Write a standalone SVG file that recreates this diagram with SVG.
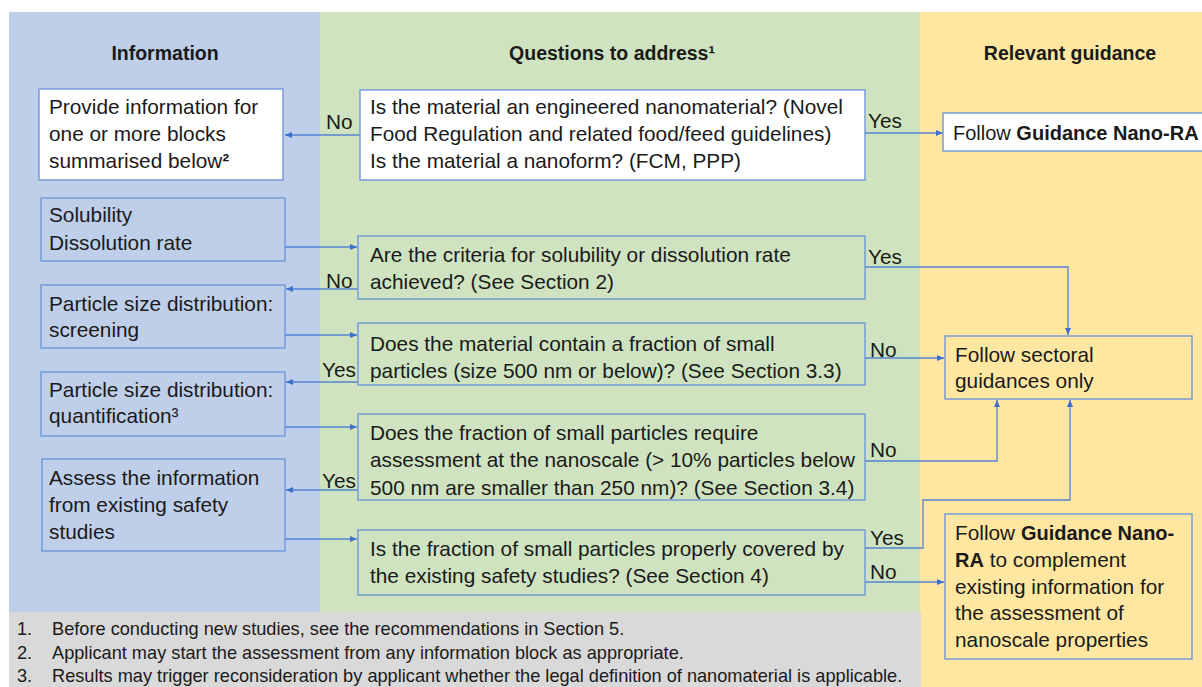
<svg xmlns="http://www.w3.org/2000/svg" width="1202" height="687" viewBox="0 0 1202 687">
<defs>
<style>
.t{font-family:"Liberation Sans",Arial,sans-serif;font-size:20.8px;fill:#1a1a1a}
.h{font-family:"Liberation Sans",Arial,sans-serif;font-size:19.5px;font-weight:bold;fill:#1a1a1a}
.f{font-family:"Liberation Sans",Arial,sans-serif;font-size:18.2px;fill:#1a1a1a}
.b{font-weight:bold;font-size:20px}
.box{stroke:#6f97d6;stroke-width:1.4}
.w{fill:#ffffff}
.bl{fill:#bfcfea}
.gr{fill:#cfe3c1}
.ye{fill:#ffe7a1}
.c{fill:none;stroke:#5584d0;stroke-width:1.3}
</style>
<marker id="ah" markerWidth="8" markerHeight="8" refX="7" refY="4" orient="auto" markerUnits="userSpaceOnUse">
<path d="M0,1 L7,4 L0,7 Z" fill="#3f6fcc"/>
</marker>
</defs>
<rect width="1202" height="687" fill="#ffffff"/>
<g id="backgrounds">
<rect x="9" y="12" width="311" height="600" fill="#bfcfea"/>
<rect x="320" y="12" width="600" height="600" fill="#cfe3c1"/>
<rect x="920" y="12" width="282" height="675" fill="#ffe7a1"/>
<rect x="9" y="612" width="912" height="75" fill="#d9d9d9"/>
</g>
<g id="headers">
<text class="h" x="165" y="60" text-anchor="middle">Information</text>
<text class="h" x="612" y="60" text-anchor="middle">Questions to address¹</text>
<text class="h" x="1070" y="60" text-anchor="middle">Relevant guidance</text>
</g>
<g id="connectors">
<path class="c" d="M360,135 H285" marker-end="url(#ah)"/>
<path class="c" d="M865,133 H943" marker-end="url(#ah)"/>
<path class="c" d="M285,247 H357" marker-end="url(#ah)"/>
<path class="c" d="M358,289 H286" marker-end="url(#ah)"/>
<path class="c" d="M285,335 H357" marker-end="url(#ah)"/>
<path class="c" d="M358,382 H286" marker-end="url(#ah)"/>
<path class="c" d="M285,427 H357" marker-end="url(#ah)"/>
<path class="c" d="M358,490 H286" marker-end="url(#ah)"/>
<path class="c" d="M285,539 H357" marker-end="url(#ah)"/>
<path class="c" d="M865,267 H1068 V335" marker-end="url(#ah)"/>
<path class="c" d="M865,358 H944" marker-end="url(#ah)"/>
<path class="c" d="M865,461 H997 V400" marker-end="url(#ah)"/>
<path class="c" d="M865,548 H923 V500 H1070 V400" marker-end="url(#ah)"/>
<path class="c" d="M865,582 H944" marker-end="url(#ah)"/>
<text class="t" x="326" y="129">No</text>
<text class="t" x="868" y="128">Yes</text>
<text class="t" x="326" y="288">No</text>
<text class="t" x="868" y="264">Yes</text>
<text class="t" x="870" y="357">No</text>
<text class="t" x="322" y="377">Yes</text>
<text class="t" x="870" y="457">No</text>
<text class="t" x="322" y="488">Yes</text>
<text class="t" x="870" y="545">Yes</text>
<text class="t" x="870" y="579">No</text>
</g>
<g id="info-provide">
<rect class="box w" x="39" y="89" width="244" height="91"/>
<text class="t" x="49" y="114">Provide information for</text>
<text class="t" x="49" y="141">one or more blocks</text>
<text class="t" x="49" y="168">summarised below<tspan class="b">²</tspan></text>
</g>
<g id="info-solubility">
<rect class="box bl" x="41" y="198" width="244" height="63"/>
<text class="t" x="49" y="222">Solubility</text>
<text class="t" x="49" y="250">Dissolution rate</text>
</g>
<g id="info-psd-screening">
<rect class="box bl" x="41" y="285" width="244" height="63"/>
<text class="t" x="49" y="311">Particle size distribution:</text>
<text class="t" x="49" y="337">screening</text>
</g>
<g id="info-psd-quant">
<rect class="box bl" x="41" y="372" width="244" height="64"/>
<text class="t" x="49" y="397">Particle size distribution:</text>
<text class="t" x="49" y="423">quantification³</text>
</g>
<g id="info-assess">
<rect class="box bl" x="42" y="459" width="243" height="92"/>
<text class="t" x="49" y="485">Assess the information</text>
<text class="t" x="49" y="512">from existing safety</text>
<text class="t" x="49" y="539">studies</text>
</g>
<g id="q1">
<rect class="box w" x="360" y="90" width="505" height="90"/>
<text class="t" x="370" y="114">Is the material an engineered nanomaterial? (Novel</text>
<text class="t" x="370" y="141">Food Regulation and related food/feed guidelines)</text>
<text class="t" x="370" y="168">Is the material a nanoform? (FCM, PPP)</text>
</g>
<g id="q2">
<rect class="box gr" x="358" y="236" width="507" height="63"/>
<text class="t" x="370" y="262">Are the criteria for solubility or dissolution rate</text>
<text class="t" x="370" y="289">achieved? (See Section 2)</text>
</g>
<g id="q3">
<rect class="box gr" x="358" y="323" width="507" height="62"/>
<text class="t" x="370" y="351">Does the material contain a fraction of small</text>
<text class="t" x="370" y="378">particles (size 500 nm or below)? (See Section 3.3)</text>
</g>
<g id="q4">
<rect class="box gr" x="358" y="414" width="507" height="86"/>
<text class="t" x="370" y="440">Does the fraction of small particles require</text>
<text class="t" x="370" y="467">assessment at the nanoscale (&gt; 10% particles below</text>
<text class="t" x="370" y="495">500 nm are smaller than 250 nm)? (See Section 3.4)</text>
</g>
<g id="q5">
<rect class="box gr" x="358" y="530" width="507" height="65"/>
<text class="t" x="370" y="556">Is the fraction of small particles properly covered by</text>
<text class="t" x="370" y="583">the existing safety studies? (See Section 4)</text>
</g>
<g id="g-nano-ra">
<rect class="box w" x="943" y="113" width="262" height="38"/>
<text class="t" x="953" y="140" style="font-size:20px">Follow <tspan class="b">Guidance Nano-RA</tspan></text>
</g>
<g id="g-sectoral">
<rect class="box ye" x="945" y="336" width="247" height="63"/>
<text class="t" x="955" y="362">Follow sectoral</text>
<text class="t" x="955" y="388">guidances only</text>
</g>
<g id="g-complement">
<rect class="box ye" x="945" y="514" width="247" height="145"/>
<text class="t" x="955" y="540">Follow <tspan class="b">Guidance Nano-</tspan></text>
<text class="t" x="955" y="567"><tspan class="b">RA</tspan> to complement</text>
<text class="t" x="955" y="594">existing information for</text>
<text class="t" x="955" y="620">the assessment of</text>
<text class="t" x="955" y="647">nanoscale properties</text>
</g>
<g id="footnotes">
<text class="f" x="17" y="635">1.</text>
<text class="f" x="52" y="635">Before conducting new studies, see the recommendations in Section 5.</text>
<text class="f" x="17" y="659">2.</text>
<text class="f" x="52" y="659">Applicant may start the assessment from any information block as appropriate.</text>
<text class="f" x="17" y="682">3.</text>
<text class="f" x="52" y="682">Results may trigger reconsideration by applicant whether the legal definition of nanomaterial is applicable.</text>
</g>
</svg>
